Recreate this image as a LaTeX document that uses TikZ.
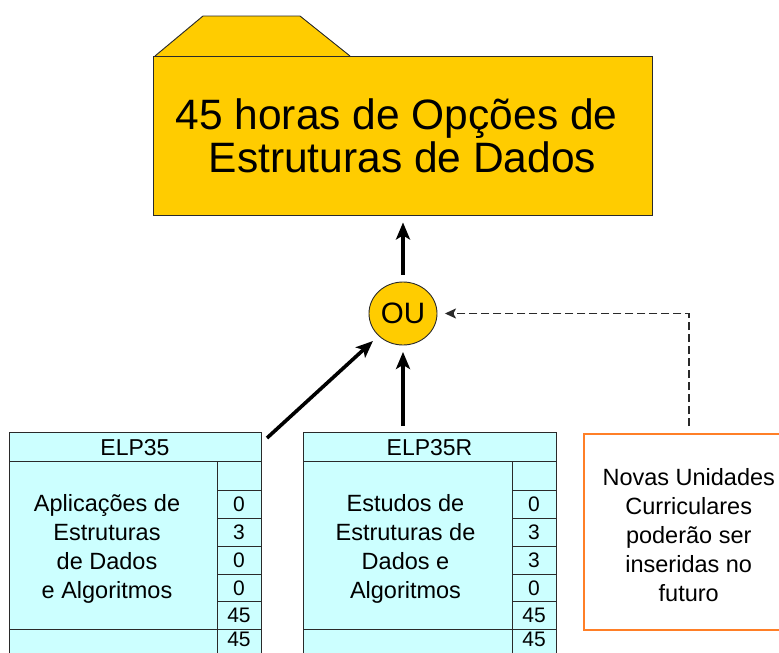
\documentclass[tikz,border=0pt]{standalone}
\usepackage{fontspec}
\setmainfont{Liberation Sans}
\usetikzlibrary{arrows.meta,shapes.geometric,calc}
\definecolor{folderyellow}{HTML}{FFCC00}
\definecolor{cellcyan}{HTML}{CCFFFF}
\definecolor{noteorange}{HTML}{FF7F27}
\definecolor{edgegray}{HTML}{2A2A2A}
\tikzset{
  cellbox/.style={draw=edgegray, line width=0.9pt, fill=cellcyan, inner sep=0pt, outer sep=0pt,
    anchor=north west, align=center, font=\fontsize{23}{29}\selectfont},
  numcell/.style={cellbox, minimum width=44pt, font=\fontsize{21}{25}\selectfont},
  boxtext/.style={inner sep=0pt, align=center, font=\fontsize{23.5}{29}\selectfont},
  flow/.style={line width=3.6pt, -{Stealth[length=17pt, width=14pt, inset=4pt]}},
  dashflow/.style={line width=1.6pt, draw=edgegray, dash pattern=on 8pt off 4pt,
    -{Stealth[length=11pt, width=10pt, inset=2.5pt]}},
}
\begin{document}
\begin{tikzpicture}[x=1pt, y={(0pt,-1pt)}]
\useasboundingbox (0,0) rectangle (779,653);
\clip (0,0) rectangle (779,653);

% folder
\path[draw=edgegray, line width=0.9pt, fill=folderyellow] (155,56) -- (203,16) -- (300,16) -- (350,56);
\node[draw=edgegray, line width=0.9pt, fill=folderyellow, minimum width=499pt, minimum height=159pt,
  inner sep=0pt, align=center, font=\fontsize{42.5}{43}\selectfont] (folder) at (402.5,135.5)
  {45 horas de Opções de\kern0.278em\\Estruturas de Dados};

% OU
\node[ellipse, draw=edgegray, line width=0.9pt, fill=folderyellow, minimum width=68pt, minimum height=63pt,
  inner sep=0pt, font=\fontsize{29.5}{30}\selectfont] (ou) at (403,313.5) {OU};

% ELP35
\node[cellbox, minimum width=252pt, minimum height=29pt] (h1) at (9,432.7) {ELP35};
\node[cellbox, minimum width=208pt, minimum height=167.3pt] (b1) at (9,461.7) {};
\node[boxtext] (b1t) at ([shift={(-6,4)}]b1.center) {Aplicações de\\Estruturas\\de Dados\\e Algoritmos};
\foreach \y/\h/\v/\n in {461.7/28.3//a, 490/28.3/0/b, 518.3/27.7/3/c, 546/28/0/d, 574/27.7/0/e, 601.7/27.3/45/f}
  \node[numcell, minimum height=\h pt] (c1\n) at (217,\y) {\v};
\node[cellbox, minimum width=208pt, minimum height=40pt] (f1) at (9,629) {};
\node[numcell, text height=17.7pt, text depth=22pt] (t1) at (217,629) {45};

% ELP35R
\node[cellbox, minimum width=253pt, minimum height=29pt] (h2) at (303,432.7) {ELP35R};
\node[cellbox, minimum width=209pt, minimum height=167.3pt] (b2) at (303,461.7) {};
\node[boxtext] (b2t) at ([shift={(-2,4)}]b2.center) {Estudos de\\Estruturas de\\Dados e\\Algoritmos};
\foreach \y/\h/\v/\n in {461.7/28.3//a, 490/28.3/0/b, 518.3/27.7/3/c, 546/28/3/d, 574/27.7/0/e, 601.7/27.3/45/f}
  \node[numcell, minimum height=\h pt] (c2\n) at (512,\y) {\v};
\node[cellbox, minimum width=209pt, minimum height=40pt] (f2) at (303,629) {};
\node[numcell, text height=17.7pt, text depth=22pt] (t2) at (512,629) {45};

% note box
\node[draw=noteorange, line width=1.5pt, fill=white, minimum width=210pt, minimum height=196pt,
  anchor=north west, inner sep=0pt] (novas) at (583,433) {};
\node[boxtext] (novast) at ([shift={(0,3.5)}]novas.center)
  {Novas Unidades\\Curriculares\\poderão ser\\inseridas no\\futuro};

% connectors
\coordinate (s1) at ([shift={(6,5.3)}]h1.north east);
\draw[flow, shorten >=7.5pt] (s1) -- (ou);
\draw[flow, shorten <=6.7pt, shorten >=6.5pt] (ou.south |- h2.north) -- (ou.south);
\draw[flow, shorten <=7pt, shorten >=7pt] (ou.north) -- (ou.north |- folder.south);
\draw[dashflow, shorten <=7pt, shorten >=7.5pt] (novas.north) |- (ou.east);
\end{tikzpicture}
\end{document}
